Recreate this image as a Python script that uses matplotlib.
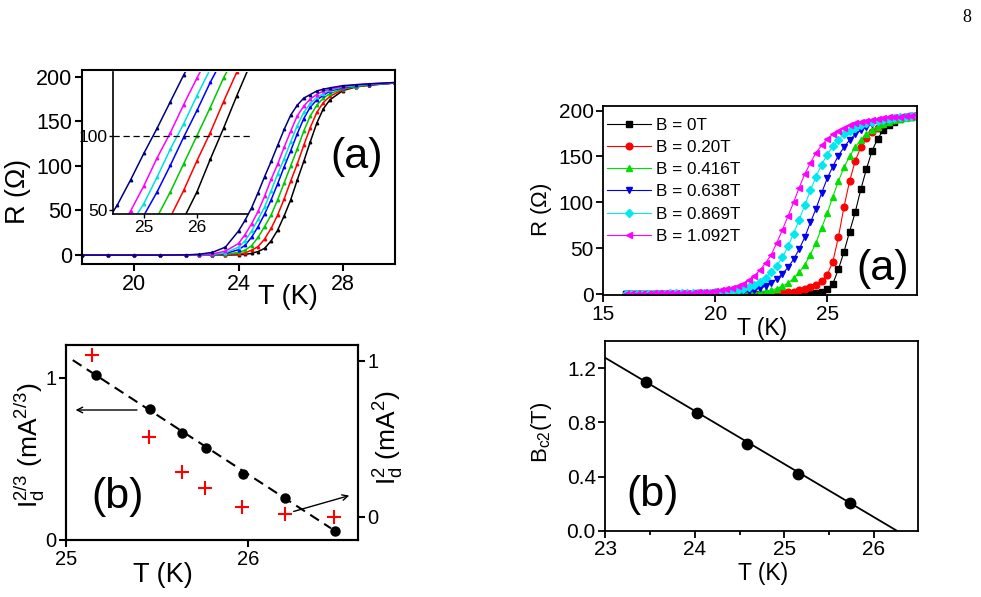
import matplotlib
matplotlib.use("Agg")
import matplotlib.pyplot as plt

plt.rcParams['font.family'] = ['Liberation Sans', 'DejaVu Sans']
plt.rcParams['mathtext.fontset'] = 'custom'
plt.rcParams['mathtext.rm'] = 'Liberation Sans'
plt.rcParams['mathtext.it'] = 'Liberation Sans:italic'
plt.rcParams['mathtext.bf'] = 'Liberation Sans:bold'

# left (a): R(T) curves
t_left = [18, 19, 20, 21, 22, 22.5, 23, 23.5, 24, 24.25, 24.5, 24.75, 25, 25.25, 25.5,
          25.75, 26, 26.25, 26.5, 26.75, 27, 27.25, 27.5, 28, 28.5, 29, 30]
r_navy = [0, 0, 0, 0, 0.2, 1, 3, 9, 27, 39, 53, 70, 88, 105, 123,
          141, 157, 168, 176, 180, 184, 186, 187.5, 190, 191, 192, 193.5]
r_magenta = [0, 0, 0, 0, 0, 0.3, 1.3, 4.5, 13, 23, 35, 49, 66, 85, 102,
             121, 139, 156, 167, 175, 180, 184, 186, 189, 191, 192, 193.5]
r_cyan = [0, 0, 0, 0, 0, 0.2, 0.8, 2.5, 9, 16, 27, 40, 54, 72, 91,
          108, 127, 145, 160, 170, 177, 181, 185, 188.5, 190, 191.5, 193]
r_blue = [0, 0, 0, 0, 0, 0.1, 0.5, 1.8, 6, 11, 20, 32, 46, 62, 80,
          99, 117, 136, 153, 166, 174, 179, 184, 187.5, 190, 191, 193]
r_green = [0, 0, 0, 0, 0, 0, 0.2, 0.9, 3, 5.5, 10.5, 20, 32, 45, 62,
           81, 100, 119, 139, 156, 168, 176, 181, 186.5, 189, 191, 193]
r_red = [0, 0, 0, 0, 0, 0, 0, 0.3, 1.4, 2.5, 5.5, 9.5, 18, 30, 45,
         63, 83, 102, 123, 143, 160, 171, 178, 185.5, 189, 190.5, 193]
r_black = [0, 0, 0, 0, 0, 0, 0, 0, 0.3, 0.8, 1.9, 4, 7.5, 16, 28,
           44, 62, 84, 105, 127, 148, 164, 174, 184.5, 188.5, 190.5, 193]
left_curves = [r_black, r_red, r_green, r_blue, r_cyan, r_magenta, r_navy]
left_colors = ['black', '#ff0000', '#00c800', '#0000ff', '#00e0e0', '#ff00ff', '#000080']

# left (b): critical current
t_id = [25.162, 25.459, 25.638, 25.765, 25.969, 26.2, 26.472]
id_23 = [1.014, 0.807, 0.659, 0.566, 0.407, 0.261, 0.056]
t_id2 = [25.14, 25.454, 25.636, 25.763, 25.963, 26.2, 26.47]
id_2 = [1.037, 0.513, 0.288, 0.182, 0.064, 0.017, 0.0]
fit_id_t = [25.037, 26.452]
fit_id_v = [1.107, 0.072]

# right (a): R(T) in field
t_right = [16, 16.25, 16.5, 16.75, 17, 17.25, 17.5, 17.75, 18, 18.25, 18.5, 18.75,
           19, 19.25, 19.5, 19.75, 20, 20.25, 20.5, 20.75, 21, 21.25, 21.5, 21.75,
           22, 22.25, 22.5, 22.75, 23, 23.25, 23.5, 23.75, 24, 24.25, 24.5, 24.75,
           25, 25.25, 25.5, 25.75, 26, 26.25, 26.5, 26.75, 27, 27.25, 27.5, 27.75,
           28, 28.25, 28.5, 28.75, 29]
rb_0 = [0, 0, 0, 0, 0, 0, 0, 0, 0, 0, 0, 0,
        0, 0, 0, 0, 0, 0, 0, 0, 0, 0, 0, 0,
        0, 0, 0, 0, 0, 0, 0.1, 0.2, 0.3, 0.6, 1.2, 2.5,
        5, 11, 27, 46, 68, 89, 114, 136, 156, 169, 178.5, 184.5,
        188, 190.5, 192.5, 193.5, 194.5]
rb_020 = [0, 0, 0, 0, 0, 0, 0, 0, 0, 0, 0, 0,
          0, 0, 0, 0.1, 0.1, 0.1, 0.1, 0.1, 0.1, 0.2, 0.2, 0.2,
          0.3, 0.4, 0.5, 0.8, 1.2, 1.8, 2.7, 4, 5.5, 7.5, 10, 14,
          21, 35, 62, 95, 123, 145, 160, 170, 177, 181.5, 185, 188,
          190, 191.5, 193, 194, 195]
rb_0416 = [0, 0, 0, 0, 0, 0, 0.1, 0.1, 0.1, 0.1, 0.1, 0.2,
           0.2, 0.2, 0.2, 0.3, 0.3, 0.3, 0.4, 0.5, 0.6, 0.8, 1.1, 1.5,
           2.1, 3.0, 4.2, 6, 8.5, 12, 17, 23.5, 32, 43, 56, 72,
           88, 106, 123, 138, 150, 160, 168, 174, 179, 182.5, 185.5, 188,
           189.5, 191, 192.2, 193.3, 194.2]
rb_0638 = [0.1, 0.1, 0.1, 0.2, 0.2, 0.2, 0.3, 0.3, 0.4, 0.4, 0.5, 0.6,
           0.6, 0.7, 0.8, 0.9, 1.0, 1.2, 1.4, 1.7, 2.0, 2.6, 3.4, 4.5,
           6.2, 8.6, 12, 16.5, 22, 29, 38, 49, 62, 78, 93, 110,
           126, 139, 151, 160, 168, 174, 178.5, 182, 185, 187, 188.5, 190,
           191, 192, 193, 193.7, 194.4]
rb_0869 = [0.2, 0.2, 0.3, 0.3, 0.4, 0.4, 0.5, 0.6, 0.7, 0.8, 0.9, 1.0,
           1.1, 1.2, 1.4, 1.6, 1.8, 2.2, 2.6, 3.2, 4.2, 5.5, 7.5, 10,
           13.5, 18, 24, 31, 40, 52, 66, 81, 97, 113, 128, 141,
           152, 161, 168, 174, 178, 181.5, 184, 186, 187.5, 189, 190, 191,
           192, 192.5, 193.3, 194, 194.7]
rb_1092 = [0.3, 0.4, 0.4, 0.5, 0.6, 0.7, 0.8, 0.9, 1.0, 1.1, 1.3, 1.4,
           1.6, 1.9, 2.2, 2.6, 3.0, 3.9, 5.0, 6.6, 8.5, 11.5, 15, 20,
           26, 34, 43, 56, 70, 85, 100, 116, 131, 143, 154, 162,
           169, 174, 178, 181.5, 184, 186, 187.5, 189, 190, 191, 191.5, 192.5,
           193, 193.5, 194, 194.5, 195]
field_series = [rb_0, rb_020, rb_0416, rb_0638, rb_0869, rb_1092]
field_labels = ['B = 0T', 'B = 0.20T', 'B = 0.416T', 'B = 0.638T', 'B = 0.869T', 'B = 1.092T']
field_colors = ['black', '#ff0000', '#00e000', '#0000ee', '#00e8f0', '#ff00ff']
field_markers = ['s', 'o', '^', 'v', 'D', '<']

# right (b): Bc2(T)
t_bc2 = [23.457, 24.02, 24.58, 25.155, 25.74]
bc2 = [1.094, 0.872, 0.641, 0.419, 0.202]
fit_bc2_t = [23.0, 26.26]
fit_bc2_v = [1.275, 0.0]


def style(ax, size, lw=1.5):
    for s in ax.spines.values():
        s.set_linewidth(lw)
    ax.tick_params(direction='out', length=5, width=lw, labelsize=size, pad=2)


fig = plt.figure(figsize=(9.81, 5.97), dpi=100)

# ---- top left
ax1 = fig.add_axes([0.0836, 0.5578, 0.3191, 0.3249])
for r, c in zip(left_curves, left_colors):
    ax1.plot(t_left, r, color=c, lw=1.1, marker='^', ms=1.8)
ax1.set_xlim(18, 30)
ax1.set_ylim(-10, 207.5)
ax1.set_xticks([20, 24, 28])
ax1.set_yticks([0, 50, 100, 150, 200])
style(ax1, 15.5)
ax1.set_xlabel('T (K)', fontsize=19.5, va='center')
ax1.xaxis.set_label_coords(0.658, -0.17)
ax1.set_ylabel('R ($\\Omega$)', fontsize=19.5, va='center')
ax1.yaxis.set_label_coords(-0.204, 0.371)
ax1.text(0.878, 0.55, '(a)', transform=ax1.transAxes, fontsize=31, ha='center', va='center')

ins = fig.add_axes([0.1152, 0.6415, 0.1376, 0.2379], facecolor='none')
for r, c in zip(left_curves, left_colors):
    ins.plot(t_left, r, color=c, lw=1.1, marker='^', ms=1.8)
ins.plot([24.42, 27.05], [100, 100], color='black', lw=0.9, ls=(0, (5, 3)), clip_on=False)
ins.set_xlim(24.42, 26.96)
ins.set_ylim(47, 143)
ins.set_xticks([25, 26])
ins.set_yticks([50, 100])
ins.spines['top'].set_visible(False)
ins.spines['right'].set_visible(False)
for s in ins.spines.values():
    s.set_linewidth(1.2)
ins.tick_params(direction='out', length=3, width=1.0, labelsize=12.5, pad=1)

# ---- bottom left
ax3 = fig.add_axes([0.0673, 0.0955, 0.2976, 0.3266])
ax3.plot(fit_id_t, fit_id_v, color='black', lw=1.5, ls=(0, (5, 3)))
ax3.plot(t_id, id_23, 'o', color='black', ms=6.5)
ax3.annotate('', xy=(25.037, 0.80), xytext=(25.404, 0.80),
             arrowprops=dict(arrowstyle='->', lw=1.0, color='black'))
ax3.annotate('', xy=(26.567, 0.278), xytext=(26.233, 0.171),
             arrowprops=dict(arrowstyle='->', lw=1.0, color='black'), annotation_clip=False)
ax3.set_xlim(25, 26.6)
ax3.set_ylim(0, 1.2)
ax3.set_xticks([25, 26])
ax3.set_yticks([0, 1])
style(ax3, 14.5)
ax3.set_xlabel('T (K)', fontsize=19.5, va='center')
ax3.xaxis.set_label_coords(0.332, -0.18)
ax3.set_ylabel('I$_\\mathregular{d}^\\mathregular{2/3}$ (mA$^\\mathregular{2/3}$)', fontsize=19, va='center')
ax3.yaxis.set_label_coords(-0.125, 0.487)
ax3.text(0.175, 0.22, '(b)', transform=ax3.transAxes, fontsize=31, ha='center', va='center')

ax3r = ax3.twinx()
ax3r.plot(t_id2, id_2, '+', color='#ff0000', ms=10, mew=1.5)
ax3r.set_ylim(-0.15, 1.1)
ax3r.set_yticks([0, 1])
style(ax3r, 14.5)
ax3r.set_ylabel('I$_\\mathregular{d}^\\mathregular{2}$ (mA$^\\mathregular{2}$)', fontsize=19, va='center', rotation=90)
ax3r.yaxis.set_label_coords(1.105, 0.523)

# ---- top right
ax2 = fig.add_axes([0.615, 0.5059, 0.3195, 0.3166])
for r, c, m, lab in zip(field_series, field_colors, field_markers, field_labels):
    ax2.plot(t_right, r, color=c, lw=0.8, marker=m, ms=4.8 if m != 'D' else 4.0,
             mec=c, mfc=c, label=lab)
ax2.set_xlim(15, 29)
ax2.set_ylim(-1, 205)
ax2.set_xticks([15, 20, 25])
ax2.set_yticks([0, 50, 100, 150, 200])
style(ax2, 15, lw=1.3)
ax2.set_xlabel('T (K)', fontsize=16.5, va='center')
ax2.xaxis.set_label_coords(0.508, -0.175)
ax2.set_ylabel('R ($\\Omega$)', fontsize=16, va='center')
ax2.yaxis.set_label_coords(-0.198, 0.45)
ax2.text(0.89, 0.14, '(a)', transform=ax2.transAxes, fontsize=31, ha='center', va='center')
ax2.legend(loc='upper left', bbox_to_anchor=(0.0, 0.955), frameon=False, fontsize=12.3,
           handlelength=2.6, handletextpad=0.3, labelspacing=0.42, borderpad=0.0,
           borderaxespad=0.2)

# ---- bottom right
ax4 = fig.add_axes([0.6172, 0.111, 0.3189, 0.3178])
ax4.plot(fit_bc2_t, fit_bc2_v, color='black', lw=1.3)
ax4.plot(t_bc2, bc2, 'o', color='black', ms=7.5)
ax4.set_xlim(23, 26.5)
ax4.set_ylim(0, 1.4)
ax4.set_xticks([23, 24, 25, 26])
ax4.set_xticks([23.5, 24.5, 25.5], minor=True)
ax4.set_yticks([0, 0.4, 0.8, 1.2])
ax4.set_yticklabels(['0.0', '0.4', '0.8', '1.2'])
style(ax4, 15, lw=1.3)
ax4.tick_params(which='minor', direction='out', length=3, width=1.3)
ax4.set_xlabel('T (K)', fontsize=16.5, va='center')
ax4.xaxis.set_label_coords(0.503, -0.223)
ax4.set_ylabel('B$_\\mathregular{c2}$(T)', fontsize=16, va='center')
ax4.yaxis.set_label_coords(-0.205, 0.52)
ax4.text(0.15, 0.19, '(b)', transform=ax4.transAxes, fontsize=31, ha='center', va='center')

fig.text(0.986, 0.97, '8', family='Liberation Serif', fontsize=13, ha='center', va='center')

fig.savefig('out.png', dpi=100)
